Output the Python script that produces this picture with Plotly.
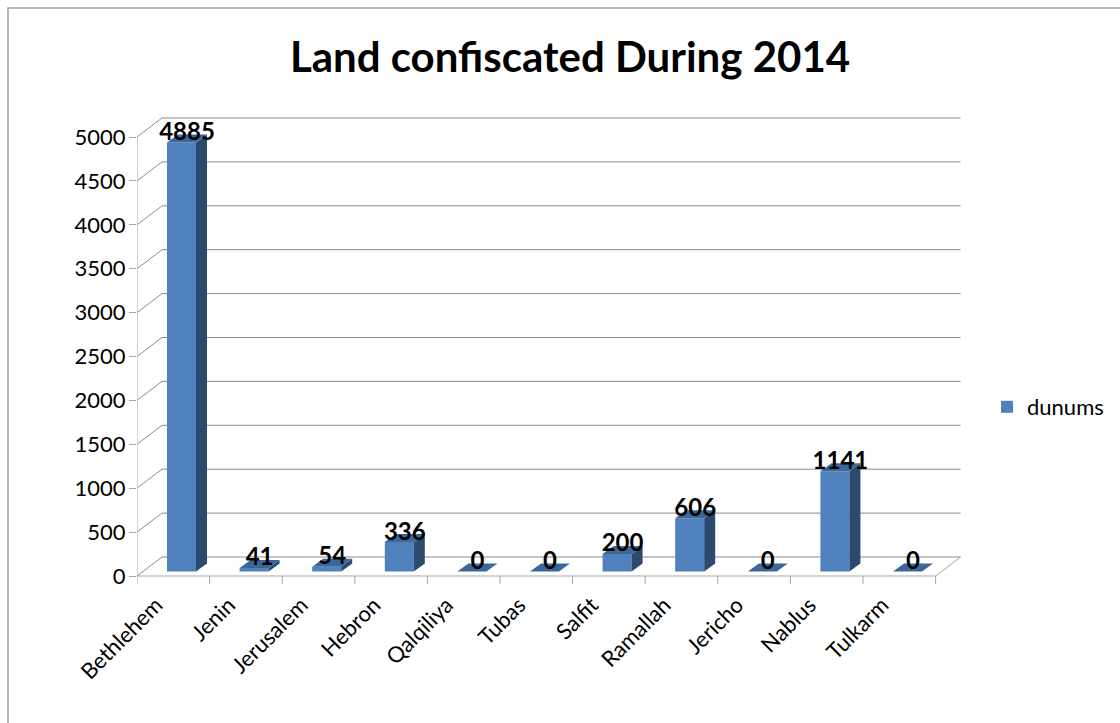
import plotly.graph_objects as go

# ---------------- data ----------------
categories = ["Bethlehem", "Jenin", "Jerusalem", "Hebron", "Qalqiliya", "Tubas",
              "Salfit", "Ramallah", "Jericho", "Nablus", "Tulkarm"]
dunums = [4885, 41, 54, 336, 0, 0, 200, 606, 0, 1141, 0]
y_ticks = [0, 500, 1000, 1500, 2000, 2500, 3000, 3500, 4000, 4500, 5000]
series_name = "dunums"
title_text = "Land confiscated During 2014"

# ---------------- geometry (pixel based pseudo-3D) ----------------
W, H = 1120, 723
PL, PR, PT, PB = 137, 970, 100, 590          # plot area in pixels
PX_PER_CAT = 72.6
Y0_PX = 576.0
PX_PER_VAL = 439.0 / 5000.0
ux = 1.0 / PX_PER_CAT                          # data units per px (x)
uy = 1.0 / PX_PER_VAL                          # data units per px (y)

x_lo = -0.5
x_hi = x_lo + (PR - PL) * ux
y_lo = (Y0_PX - PB) * uy
y_hi = (Y0_PX - PT) * uy

WALL_DX, WALL_DY = 25 * ux, 19 * uy            # depth of the floor / wall
BAR_W = 29 * ux
BAR_SHIFT = 8.2 * ux
LIFT = 4.5 * uy
SDX, SDY = 11 * ux, 8 * uy                     # bar depth
LABEL_UP = 8.5 * uy
TICKLABEL_SHIFT = -17 * ux

n = len(categories)
x_right = n - 0.5

FRONT = "#4F81BD"
SIDE = "#2C4A6E"
TOP = "#3D6798"
GRID = "#8C8C8C"
AXIS = "#A6A6A6"
FONT = "Lato"

shapes = []
# back wall gridlines + left wall diagonals
for v in y_ticks:
    shapes.append(dict(type="path", xref="x", yref="y", layer="below",
                       path=f"M{x_lo},{v} L{x_lo + WALL_DX},{v + WALL_DY} L{x_right + WALL_DX},{v + WALL_DY}",
                       line=dict(color=GRID, width=1)))
# floor front edge and right diagonal
shapes.append(dict(type="path", xref="x", yref="y", layer="below",
                   path=f"M{x_lo},0 L{x_right},0 L{x_right + WALL_DX},{WALL_DY}",
                   line=dict(color=AXIS, width=1)))
# front vertical axis line
shapes.append(dict(type="line", xref="x", yref="y", layer="below",
                   x0=x_lo, y0=0, x1=x_lo, y1=y_ticks[-1],
                   line=dict(color=AXIS, width=1)))
# category tick marks
for i in range(n + 1):
    shapes.append(dict(type="line", xref="x", yref="y", layer="below",
                       x0=i - 0.5, y0=0, x1=i - 0.5, y1=-8 * uy,
                       line=dict(color=AXIS, width=1)))
# outer chart border
shapes.append(dict(type="rect", xref="paper", yref="paper", layer="above",
                   x0=(8 - PL) / (PR - PL), x1=(1130 - PL) / (PR - PL),
                   y0=(PB - 735) / (PB - PT), y1=(PB - 8) / (PB - PT),
                   line=dict(color="#A0A0A0", width=1.5), fillcolor="rgba(0,0,0,0)"))

fig = go.Figure()

xc = [i + BAR_SHIFT for i in range(n)]

# front faces
fig.add_trace(go.Bar(x=xc, y=dunums, base=[LIFT] * n, width=BAR_W,
                     marker=dict(color=FRONT, line=dict(width=0)),
                     name=series_name, showlegend=True, hoverinfo="skip"))

# side faces
sx, sy = [], []
for c, v in zip(xc, dunums):
    if v <= 0:
        continue
    xr = c + BAR_W / 2
    b, t = LIFT, LIFT + v
    sx += [xr, xr, xr + SDX, xr + SDX, xr, None]
    sy += [b, t, t + SDY, b + SDY, b, None]
fig.add_trace(go.Scatter(x=sx, y=sy, mode="lines", fill="toself", fillcolor=SIDE,
                         line=dict(width=0, color=SIDE), showlegend=False, hoverinfo="skip"))

# top faces
tx, ty = [], []
for c, v in zip(xc, dunums):
    xl, xr = c - BAR_W / 2, c + BAR_W / 2
    t = LIFT + v
    tx += [xl, xr, xr + SDX, xl + SDX, xl, None]
    ty += [t, t, t + SDY, t + SDY, t, None]
fig.add_trace(go.Scatter(x=tx, y=ty, mode="lines", fill="toself", fillcolor=TOP,
                         line=dict(width=0, color=TOP), showlegend=False, hoverinfo="skip"))

# data labels
fig.add_trace(go.Scatter(x=[c + SDX / 2 for c in xc],
                         y=[LIFT + v + LABEL_UP for v in dunums],
                         mode="text", text=[str(v) for v in dunums],
                         textposition="middle center",
                         textfont=dict(family=FONT, size=24, color="black", weight="bold"),
                         showlegend=False, hoverinfo="skip"))

fig.update_layout(
    width=W, height=H,
    margin=dict(l=PL, r=W - PR, t=PT, b=H - PB, autoexpand=False),
    paper_bgcolor="white", plot_bgcolor="rgba(0,0,0,0)",
    shapes=shapes,
    title=dict(text=title_text, x=570 / W, xref="container",
               y=1 - 57 / H, yref="container", xanchor="center", yanchor="middle",
               font=dict(family=FONT, size=42, color="black", weight="bold")),
    showlegend=True,
    legend=dict(x=(987 - PL) / (PR - PL), y=(PB - 407) / (PB - PT),
                xanchor="left", yanchor="middle",
                font=dict(family=FONT, size=22, color="black"),
                bgcolor="rgba(0,0,0,0)", itemwidth=30),
    xaxis=dict(range=[x_lo, x_hi], showgrid=False, zeroline=False, showline=False,
               tickmode="array", tickvals=[i + TICKLABEL_SHIFT for i in range(n)],
               ticktext=categories, automargin=False,
               tickangle=-45, ticks="", ticklabelstandoff=-3,
               tickfont=dict(family=FONT, size=22, color="black"),
               fixedrange=True),
    yaxis=dict(range=[y_lo, y_hi], showgrid=False, zeroline=False, showline=False,
               tickmode="array", tickvals=y_ticks, ticktext=[str(v) for v in y_ticks],
               ticks="outside", ticklen=7, tickcolor=AXIS, tickwidth=1,
               ticklabelstandoff=-1, automargin=False,
               tickfont=dict(family=FONT, size=22, color="black"), fixedrange=True),
    font=dict(family=FONT),
)

fig.write_html("out.html", config={"displayModeBar": False},
               post_script="document.body.style.margin='0';document.body.style.overflow='hidden';")
